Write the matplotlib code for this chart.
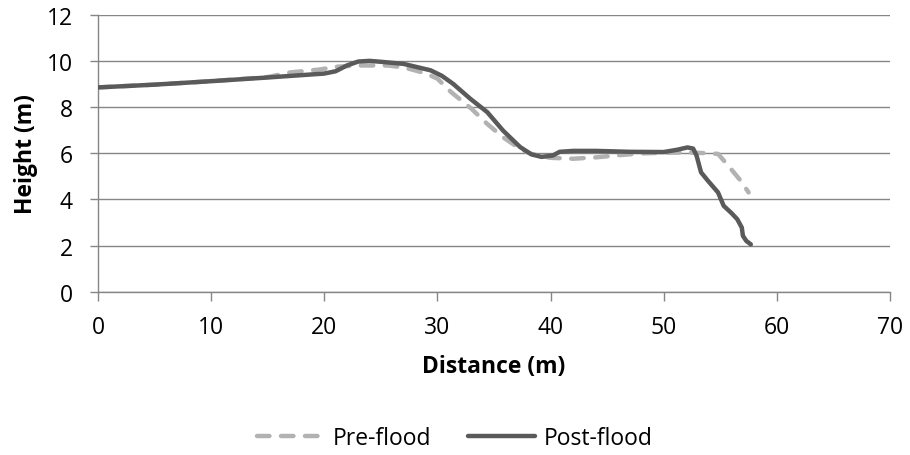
import matplotlib
matplotlib.use("Agg")
import matplotlib.pyplot as plt
from matplotlib.lines import Line2D

# ---- data ----
pre_x = [0, 5, 10, 15, 17, 19.5, 21.2, 23, 25.6, 27, 28, 29, 30, 31.2, 33, 34.4,
         35.8, 37.3, 38.3, 39.2, 40.0, 42, 44, 46.2, 48, 50, 52, 53.3, 54.8, 55.7,
         56.8, 57.5]
pre_y = [8.85, 8.97, 9.12, 9.3, 9.5, 9.62, 9.75, 9.8, 9.8, 9.72, 9.59, 9.45, 9.23,
         8.65, 7.93, 7.27, 6.69, 6.19, 5.97, 5.87, 5.8, 5.76, 5.82, 5.92, 5.99, 6.02,
         6.03, 6.01, 5.97, 5.46, 4.81, 4.3]

post_x = [0, 5, 10, 15, 20, 21, 22, 23, 24, 25, 27, 29.4, 30.4, 31.4, 32.9, 34.4,
          35.8, 37.3, 38.3, 39.2, 40.2, 40.8, 42, 44, 47, 50, 51.2, 52.1, 52.6, 52.9,
          53.3, 53.9, 54.8, 55.3, 56.0, 56.5, 56.9, 57.0, 57.3, 57.7]
post_y = [8.85, 8.97, 9.12, 9.28, 9.45, 9.55, 9.8, 9.97, 10.0, 9.96, 9.87, 9.59, 9.35,
          9.0, 8.36, 7.78, 6.98, 6.27, 5.95, 5.84, 5.9, 6.06, 6.1, 6.1, 6.06, 6.05,
          6.15, 6.25, 6.2, 5.9, 5.17, 4.81, 4.3, 3.72, 3.4, 3.14, 2.78, 2.42, 2.2, 2.05]

x_ticks = [0, 10, 20, 30, 40, 50, 60, 70]
y_ticks = [0, 2, 4, 6, 8, 10, 12]
series_names = ["Pre-flood", "Post-flood"]
x_label = "Distance (m)"
y_label = "Height (m)"

# ---- style ----
plt.rcParams['font.family'] = ['Open Sans', 'DejaVu Sans']
FS = 16.5
GRID = '#868686'
PRE_C = '#b2b2b2'
POST_C = '#5a5a5a'
DASH = (0, (2.8, 2.6))

W, H = 910, 456
fig = plt.figure(figsize=(W / 100, H / 100), dpi=100)
ax = fig.add_axes([98 / W, 1 - 292.7 / H, (890 - 98) / W, (292.7 - 15.7) / H])

ax.plot(pre_x, pre_y, color=PRE_C, lw=3.2, linestyle=DASH,
        dash_capstyle='round', dash_joinstyle='round', zorder=3)
ax.plot(post_x, post_y, color=POST_C, lw=3.2, solid_capstyle='round',
        solid_joinstyle='round', zorder=4)

ax.set_xlim(0, 70)
ax.set_ylim(0, 12)
ax.set_xticks(x_ticks)
ax.set_yticks(y_ticks)
ax.set_xticklabels([str(t) for t in x_ticks])
ax.set_yticklabels([str(t) for t in y_ticks])

for s in ['top', 'right']:
    ax.spines[s].set_visible(False)
for s in ['left', 'bottom']:
    ax.spines[s].set_color(GRID)
    ax.spines[s].set_linewidth(1.0)

ax.yaxis.grid(True, color=GRID, linewidth=1.0, zorder=0)
ax.set_axisbelow(True)
ax.tick_params(axis='y', length=6, width=1.0, color=GRID, direction='out',
               pad=12, labelsize=FS)
ax.tick_params(axis='x', length=6.5, width=1.0, color=GRID, direction='out',
               pad=10, labelsize=FS)

fig.text(494 / W, 1 - 367 / H, x_label, ha='center', va='center',
         fontsize=FS, fontweight='bold')
fig.text(26 / W, 1 - 154 / H, y_label, ha='center', va='center',
         rotation=90, fontsize=FS, fontweight='bold')

handles = [Line2D([], [], color=PRE_C, lw=3.2, linestyle=DASH,
                  dash_capstyle='round'),
           Line2D([], [], color=POST_C, lw=3.2, solid_capstyle='round')]
fig.legend(handles, series_names, loc='center', bbox_to_anchor=(455 / W, 1 - 439 / H),
           ncol=2, frameon=False, fontsize=FS, handlelength=2.9, handletextpad=0.4,
           columnspacing=1.6)

fig.savefig('out.png', dpi=100)
